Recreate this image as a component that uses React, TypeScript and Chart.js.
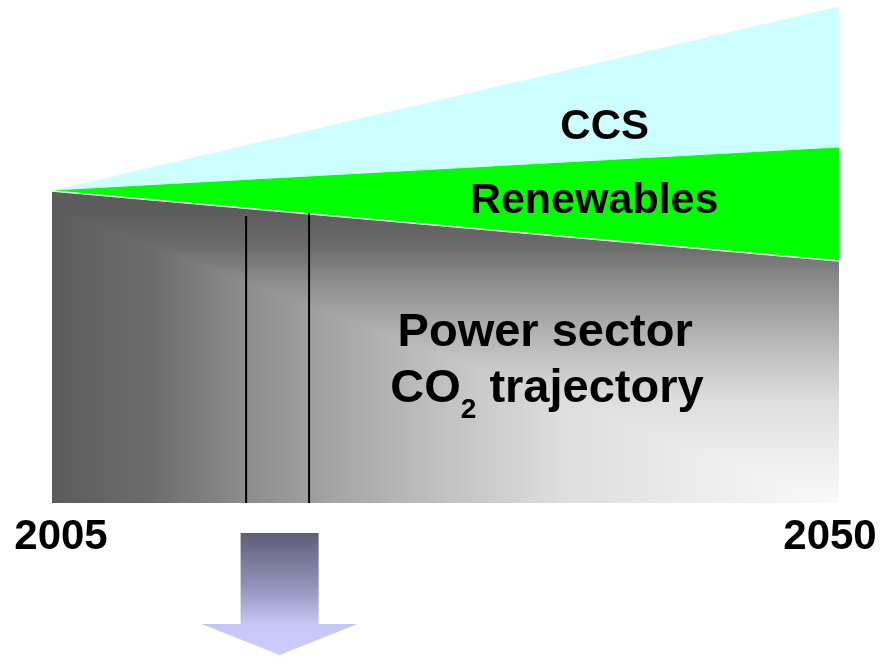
import React, { useEffect, useRef } from "react";
import { Chart, registerables } from "chart.js";

Chart.register(...registerables);

// ---- data ----
const years = [2005, 2050];
const powerCO2 = [100, 77.6];
const renewables = [0, 36.2];
const ccs = [0, 45.2];
const markerYears = [2016.1, 2019.7];
const markerTops = [92, 93];
const yearLabels = ["2005", "2050"];
const seriesNames = ["Power sector CO2 trajectory", "Renewables", "CCS"];

const FONT = '"Liberation Sans", Arial, Helvetica, sans-serif';

const grayStops: [number, number][] = [
  [0, 250],
  [0.35, 222],
  [0.56, 182],
  [0.75, 142],
  [0.875, 108],
  [1, 92],
];
function shade(t: number): number {
  if (t <= 0) return grayStops[0][1];
  if (t >= 1) return grayStops[grayStops.length - 1][1];
  for (let i = 1; i < grayStops.length; i++) {
    const [t1, v1] = grayStops[i];
    const [t0, v0] = grayStops[i - 1];
    if (t <= t1) return v0 + ((t - t0) / (t1 - t0)) * (v1 - v0);
  }
  return 92;
}

let patCache: { key: string; pat: CanvasPattern | null } | null = null;
function grayFill(ctx: any) {
  const chart = ctx.chart;
  const area = chart.chartArea;
  if (!area) return "#777777";
  const key = [area.left, area.top, area.right, area.bottom, chart.width, chart.height].join(",");
  if (patCache && patCache.key === key) return patCache.pat;
  const yS = chart.scales.y;
  const left = Math.round(area.left);
  const right = Math.round(area.right);
  const top = Math.round(area.top);
  const bottom = Math.round(area.bottom);
  const Rx = right - left;
  const Ry = (bottom - yS.getPixelForValue(powerCO2[0])) * 0.94;
  const c = document.createElement("canvas");
  c.width = chart.width;
  c.height = chart.height;
  const g = c.getContext("2d")!;
  const w = right - left;
  const h = bottom - top;
  const img = g.createImageData(w, h);
  for (let j = 0; j < h; j++) {
    const dy = (bottom - (top + j)) / Ry;
    for (let i = 0; i < w; i++) {
      const dx = (right - (left + i)) / Rx;
      const v = Math.round(shade(Math.max(dx, dy)));
      const k = (j * w + i) * 4;
      img.data[k] = v;
      img.data[k + 1] = v;
      img.data[k + 2] = v;
      img.data[k + 3] = 255;
    }
  }
  g.putImageData(img, left, top);
  const pat = chart.ctx.createPattern(c, "no-repeat");
  patCache = { key, pat };
  return pat;
}

const decorPlugin = {
  id: "decor",
  afterDatasetsDraw(chart: any) {
    const { ctx, chartArea } = chart;
    const xS = chart.scales.x;
    const yS = chart.scales.y;
    ctx.save();
    // marker lines
    ctx.strokeStyle = "#000000";
    ctx.lineWidth = 2;
    markerYears.forEach((yr, i) => {
      const x = xS.getPixelForValue(yr);
      ctx.beginPath();
      ctx.moveTo(x, yS.getPixelForValue(markerTops[i]));
      ctx.lineTo(x, chartArea.bottom);
      ctx.stroke();
    });

    ctx.fillStyle = "#000000";
    ctx.textAlign = "center";
    ctx.textBaseline = "alphabetic";
    // CCS / Renewables
    ctx.font = `bold 42px ${FONT}`;
    ctx.fillText("CCS", xS.getPixelForValue(2036.6), yS.getPixelForValue(116.7));
    ctx.font = `bold 43px ${FONT}`;
    ctx.fillText("Renewables", xS.getPixelForValue(2036.0), yS.getPixelForValue(92.9));
    // Power sector
    ctx.font = `bold 47px ${FONT}`;
    ctx.fillText("Power sector", xS.getPixelForValue(2033.2), yS.getPixelForValue(50.2));
    // CO2 trajectory with subscript
    const cx = xS.getPixelForValue(2033.3);
    const base = yS.getPixelForValue(32.5);
    ctx.font = `bold 47px ${FONT}`;
    const wCO = ctx.measureText("CO").width;
    const wTraj = ctx.measureText(" trajectory").width;
    ctx.font = `bold 28px ${FONT}`;
    const wSub = ctx.measureText("2").width;
    const total = wCO + wSub + wTraj;
    const x0 = cx - total / 2;
    ctx.textAlign = "left";
    ctx.font = `bold 47px ${FONT}`;
    ctx.fillText("CO", x0, base);
    ctx.font = `bold 28px ${FONT}`;
    ctx.fillText("2", x0 + wCO, base + 16);
    ctx.font = `bold 47px ${FONT}`;
    ctx.fillText(" trajectory", x0 + wCO + wSub, base);

    // year labels
    ctx.textAlign = "center";
    ctx.font = `bold 42px ${FONT}`;
    ctx.fillText(yearLabels[0], xS.getPixelForValue(years[0]) + 9, chartArea.bottom + 46);
    ctx.fillText(yearLabels[1], xS.getPixelForValue(years[1]) - 9, chartArea.bottom + 46);

    // arrow
    const ax = (xS.getPixelForValue(markerYears[0]) + xS.getPixelForValue(markerYears[1])) / 2 + 2;
    const aTop = chartArea.bottom + 30;
    const aHead = chartArea.bottom + 121;
    const aTip = chartArea.bottom + 152;
    const grad = ctx.createLinearGradient(0, aTop, 0, aTip);
    grad.addColorStop(0, "#5e5e78");
    grad.addColorStop(0.45, "#9494bc");
    grad.addColorStop(0.75, "#c6c6f6");
    grad.addColorStop(1, "#ccccff");
    ctx.fillStyle = grad;
    ctx.beginPath();
    ctx.moveTo(ax - 39, aTop);
    ctx.lineTo(ax + 39, aTop);
    ctx.lineTo(ax + 39, aHead);
    ctx.lineTo(ax + 78, aHead);
    ctx.lineTo(ax, aTip);
    ctx.lineTo(ax - 78, aHead);
    ctx.lineTo(ax - 39, aHead);
    ctx.closePath();
    ctx.fill();
    ctx.restore();
  },
};

export default function App() {
  const ref = useRef<HTMLCanvasElement | null>(null);
  useEffect(() => {
    document.body.style.margin = "0";
    const canvas = ref.current;
    if (!canvas) return;
    const toPts = (arr: number[]) => arr.map((v, i) => ({ x: years[i], y: v }));
    const chart = new Chart(canvas, {
      type: "line",
      data: {
        datasets: [
          {
            label: seriesNames[0],
            data: toPts(powerCO2),
            fill: "origin",
            backgroundColor: grayFill as any,
            borderColor: "#ffffff",
            borderWidth: 1.5,
            pointRadius: 0,
            tension: 0,
          },
          {
            label: seriesNames[1],
            data: toPts(renewables),
            fill: "-1",
            backgroundColor: "#00ff00",
            borderColor: "#00ff00",
            borderWidth: 1,
            pointRadius: 0,
            tension: 0,
          },
          {
            label: seriesNames[2],
            data: toPts(ccs),
            fill: "-1",
            backgroundColor: "#ccffff",
            borderColor: "#ccffff",
            borderWidth: 1,
            pointRadius: 0,
            tension: 0,
          },
        ],
      },
      options: {
        responsive: false,
        animation: false,
        devicePixelRatio: 1,
        layout: { padding: { left: 52, right: 54, top: 7, bottom: 154 } },
        plugins: {
          legend: { display: false },
          tooltip: { enabled: false },
        },
        scales: {
          x: { type: "linear", min: 2005, max: 2050, display: false },
          y: { stacked: true, min: 0, max: 159, display: false },
        },
      },
      plugins: [decorPlugin],
    });
    return () => chart.destroy();
  }, []);
  return (
    <div style={{ width: 893, height: 657 }}>
      <canvas ref={ref} width={893} height={657} style={{ display: "block" }} />
    </div>
  );
}
